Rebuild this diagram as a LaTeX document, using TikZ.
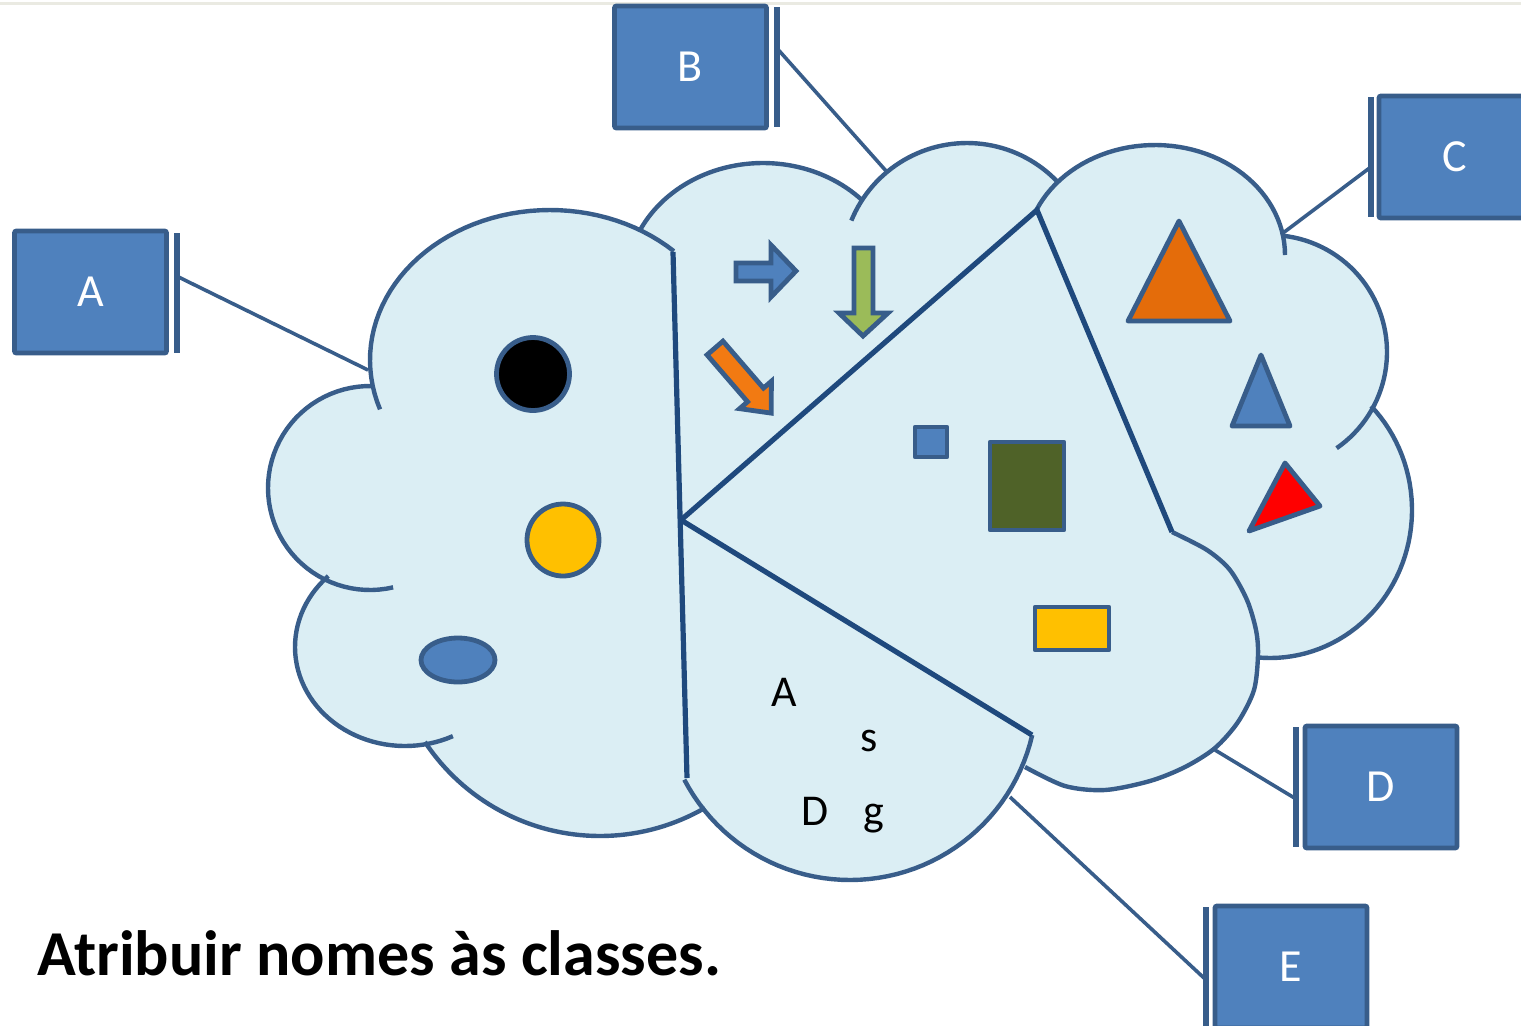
\documentclass[tikz,border=0pt]{standalone}
\usepackage{fontspec}
\setmainfont{Carlito}
\definecolor{cloudfill}{HTML}{DBEEF4}
\definecolor{cloudblue}{HTML}{385D8A}
\definecolor{navy}{HTML}{1F497D}
\definecolor{boxblue}{HTML}{4F81BD}
\definecolor{topgray}{HTML}{EAEAE2}
\definecolor{myorange}{HTML}{E46C0A}
\definecolor{arroworange}{HTML}{F27A12}
\definecolor{mygreen}{HTML}{9BBB59}
\definecolor{darkgreen}{HTML}{4F6228}
\definecolor{myyellow}{HTML}{FFC000}
\begin{document}
\begin{tikzpicture}[x=0.5pt,y=-0.5pt,
  cloudline/.style={draw=cloudblue, line width=2.2pt},
  divider/.style={draw=navy, line width=2.6pt},
  shp/.style={draw=cloudblue, line width=2.4pt, line join=round},
  callbox/.style={draw=cloudblue, fill=boxblue, line width=2.4pt, rounded corners=1pt,
     minimum width=76pt, minimum height=61pt, inner sep=0pt, text=white,
     font=\fontsize{23}{27}\selectfont},
  calbar/.style={draw=cloudblue, line width=3pt},
  leader/.style={draw=cloudblue, line width=1.8pt},
  intext/.style={anchor=base, inner sep=0pt, font=\fontsize{22}{26}\selectfont}]
\useasboundingbox (0,0) rectangle (1521,1025);
\draw[topgray, line width=1.5pt] (0,3) -- (1521,3);

% cloud fill (outer boundary)
\fill[cloudfill]
  plot[domain=115.4:271, samples=40, variable=\t] ({370+102*cos(\t)},{488+102*sin(\t)})
  -- plot[domain=168.8:300.1, samples=40, variable=\t] ({550+180*cos(\t)},{360+150*sin(\t)})
  -- plot[domain=206.2:316.3, samples=40, variable=\t] ({763+137*cos(\t)},{283+120*sin(\t)})
  -- plot[domain=212.9:316.6, samples=40, variable=\t] ({967+125*cos(\t)},{268+125*sin(\t)})
  -- plot[domain=221:350.6, samples=40, variable=\t] ({1155+130*cos(\t)},{255+110*sin(\t)})
  -- plot[domain=276.6:386.7, samples=40, variable=\t] ({1270+117*cos(\t)},{352+117*sin(\t)})
  -- plot[domain=315.4:455.4, samples=40, variable=\t] ({1270+142*cos(\t)},{510+148*sin(\t)})
  -- plot[smooth] coordinates {(1258,655) (1254,690) (1238,722) (1215,748) (1185,767) (1150,781) (1105,790) (1065,786) (1025,767)}
  -- plot[domain=22.8:141.5, samples=40, variable=\t] ({850+187*cos(\t)},{693+187*sin(\t)})
  -- plot[domain=60:146.5, samples=40, variable=\t] ({600+210*cos(\t)},{626+210*sin(\t)})
  -- plot[domain=79.2:225.8, samples=40, variable=\t] ({405+110*cos(\t)},{647+99*sin(\t)})
  -- cycle;

% cloud outlines (puffs with inner stubs)
\draw[cloudline] plot[domain=76.9:271, samples=50, variable=\t] ({370+102*cos(\t)},{488+102*sin(\t)});
\draw[cloudline] plot[domain=160.8:313.5, samples=50, variable=\t] ({550+180*cos(\t)},{360+150*sin(\t)});
\draw[cloudline] plot[domain=206.2:316.3, samples=50, variable=\t] ({763+137*cos(\t)},{283+120*sin(\t)});
\draw[cloudline] plot[domain=202.3:316.6, samples=50, variable=\t] ({967+125*cos(\t)},{268+125*sin(\t)});
\draw[cloudline] plot[domain=204.2:360, samples=50, variable=\t] ({1155+130*cos(\t)},{255+110*sin(\t)});
\draw[cloudline] plot[domain=276.6:415.3, samples=50, variable=\t] ({1270+117*cos(\t)},{352+117*sin(\t)});
\draw[cloudline] plot[domain=315.4:455.4, samples=50, variable=\t] ({1270+142*cos(\t)},{510+148*sin(\t)});
\draw[cloudline] plot[smooth] coordinates {(1172,532) (1207,550) (1230,570) (1247,600) (1256,630) (1258,655) (1254,690) (1238,722) (1215,748) (1185,767) (1150,781) (1105,790) (1065,786) (1025,767)};
\draw[cloudline] plot[domain=13:152.4, samples=50, variable=\t] ({850+187*cos(\t)},{693+187*sin(\t)});
\draw[cloudline] plot[domain=60:146.5, samples=50, variable=\t] ({600+210*cos(\t)},{626+210*sin(\t)});
\draw[cloudline] plot[domain=64.2:225.8, samples=50, variable=\t] ({405+110*cos(\t)},{647+99*sin(\t)});

% dividers
\coordinate (Vt) at (673,252);
\coordinate (Vb) at (687,778);
\coordinate (J) at (681,520);
\coordinate (Tr) at (1037,210);
\coordinate (Br) at (1172,532);
\coordinate (Bm) at (1032,735);
\draw[divider] (Vt) -- (Vb);
\draw[divider, line join=miter] (J) -- (Tr) -- (Br);
\draw[divider] (J) -- (Bm);

% left region shapes
\draw[shp, fill=black] (533,374) circle[radius=36.5];
\draw[shp, fill=myyellow] (563,540) circle[radius=36];
\draw[shp, fill=boxblue] (458,660) ellipse[x radius=37, y radius=22];

% arrows
\draw[shp, fill=boxblue, line join=miter] (736,263) -- (771,263) -- (771,245) -- (796,271) -- (771,297) -- (771,281) -- (736,281) -- cycle;
\draw[shp, fill=mygreen, line join=miter] (854,248) -- (873,248) -- (873,313) -- (888,313) -- (863,336) -- (839,313) -- (854,313) -- cycle;
\begin{scope}[shift={(715,348)}, rotate=-49.2]
\draw[shp, fill=arroworange, line join=miter] (0,-10.5) -- (62,-10.5) -- (62,-21) -- (86,0) -- (62,21) -- (62,10.5) -- (0,10.5) -- cycle;
\end{scope}

% middle region shapes
\draw[shp, fill=boxblue] (915,427) rectangle (947,457);
\draw[shp, fill=darkgreen] (990,442) rectangle (1064,530);
\draw[shp, fill=myyellow] (1035,607) rectangle (1109,650);

% right region triangles
\draw[shp, fill=myorange] (1179,221) -- (1230,321) -- (1128,321) -- cycle;
\draw[shp, fill=boxblue] (1261,355) -- (1290,426) -- (1232,426) -- cycle;
\draw[shp, fill=red] (1285,463) -- (1320,506) -- (1249,531) -- cycle;

% letters in bottom sector
\node[intext] (ta) at (784,706) {A};
\node[intext] (ts) at (869.5,751.5) {s};
\node[intext] (td) at (815,825.5) {D};
\node[intext] (tg) at (874,825.5) {g};

% callouts
\node[callbox] (boxA) at (90.5,292) {A};
\node[callbox] (boxB) at (690.5,67) {B};
\node[callbox] (boxC) at (1455,157) {C};
\node[callbox] (boxD) at (1381,787) {D};
\node[callbox] (boxE) at (1291,967) {E};

\coordinate (barAt) at (177,233); \coordinate (barAb) at (177,353);
\coordinate (barBt) at (777,7);   \coordinate (barBb) at (777,127);
\coordinate (barCt) at (1371,97); \coordinate (barCb) at (1371,217);
\coordinate (barDt) at (1296,727); \coordinate (barDb) at (1296,847);
\coordinate (barEt) at (1205.5,907); \coordinate (barEb) at (1205.5,1027);
\draw[calbar] (barAt) -- (barAb);
\draw[calbar] (barBt) -- (barBb);
\draw[calbar] (barCt) -- (barCb);
\draw[calbar] (barDt) -- (barDb);
\draw[calbar] (barEt) -- (barEb);

\coordinate (lA1) at (178.5,277); \coordinate (lA2) at (368,370);
\coordinate (lB1) at (778.5,50);  \coordinate (lB2) at (887,172);
\coordinate (lC1) at (1369.5,168); \coordinate (lC2) at (1283,233);
\coordinate (lD1) at (1294.5,798); \coordinate (lD2) at (1215,750);
\coordinate (lE1) at (1204,978);  \coordinate (lE2) at (1010,797);
\draw[leader] (lA1) -- (lA2);
\draw[leader] (lB1) -- (lB2);
\draw[leader] (lC1) -- (lC2);
\draw[leader] (lD1) -- (lD2);
\draw[leader] (lE1) -- (lE2);

% title
\node[anchor=base west, inner sep=0pt, font=\fontsize{32}{37}\selectfont\bfseries] (title) at (37,975) {Atribuir nomes às classes.};
\end{tikzpicture}
\end{document}
